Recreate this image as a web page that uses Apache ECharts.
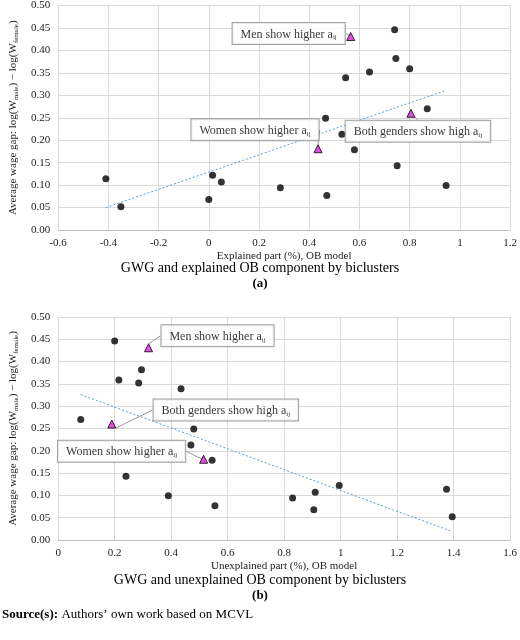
<!DOCTYPE html>
<html><head><meta charset="utf-8">
<script src="https://cdn.jsdelivr.net/npm/echarts@6/dist/echarts.min.js"></script>
<style>html,body{margin:0;padding:0;background:#fff}#c{width:520px;height:640px}</style>
</head><body><div id="c"></div>
<script>
// Panel (a): explained part
const dotsA = [[-0.41,0.114],[-0.35,0.052],[0,0.068],[0.015,0.122],[0.05,0.107],[0.285,0.094],[0.465,0.249],[0.47,0.077],[0.53,0.213],[0.545,0.339],[0.58,0.179],[0.64,0.352],[0.74,0.446],[0.745,0.382],[0.75,0.143],[0.8,0.359],[0.87,0.27],[0.945,0.099]];
const triA = [[0.565,0.431],[0.435,0.181],[0.805,0.26]];
const trendA = [[-0.41,0.05],[0.945,0.311]];
// Panel (b): unexplained part
const dotsB = [[0.08,0.27],[0.2,0.446],[0.215,0.359],[0.24,0.143],[0.285,0.352],[0.295,0.382],[0.39,0.099],[0.435,0.339],[0.47,0.213],[0.48,0.249],[0.545,0.179],[0.555,0.077],[0.83,0.094],[0.905,0.068],[0.91,0.107],[0.995,0.122],[1.375,0.114],[1.395,0.052]];
const triB = [[0.32,0.431],[0.19,0.26],[0.515,0.181]];
const trendB = [[0.08,0.326],[1.39,0.02]];
const triLabelsA = ['Men show higher','Women show higher','Both genders show high'];
const triLabelsB = ['Men show higher','Both genders show high','Women show higher'];
const offA = [[-62,-3],[-63,-19],[7,18]];
const offB = [[69,-12],[114,-14],[-82,-8]];

const F = 'Liberation Serif';
const ch = echarts.init(document.getElementById('c'));
const yName = '{n|Average wage gap: log(W}{s|male}{n|) − log(W}{s|female}{n|)}';
const yRich = {n:{fontFamily:F,fontSize:11,color:'#222'},s:{fontFamily:F,fontSize:7,color:'#222',verticalAlign:'bottom',padding:[6,0,0,0]}};
function xAx(i,min,max,interval,name){
  return {gridIndex:i,type:'value',min,max,interval,name,nameLocation:'middle',nameGap:21,
    nameTextStyle:{fontFamily:F,fontSize:11,color:'#222'},
    axisLine:{show:true,lineStyle:{color:'#bfbfbf'}},axisTick:{show:false},
    axisLabel:{fontFamily:F,fontSize:11,color:'#222',formatter:v=>String(Math.round(v*10)/10)},
    splitLine:{show:true,lineStyle:{color:'#d9d9d9'}}};
}
function yAx(i){
  return {gridIndex:i,type:'value',min:0,max:0.5,interval:0.05,name:yName,nameLocation:'middle',nameGap:37,
    nameTextStyle:{rich:yRich},
    axisLine:{show:false},axisTick:{show:false},
    axisLabel:{fontFamily:F,fontSize:11,color:'#222',formatter:v=>v.toFixed(2)},
    splitLine:{show:true,lineStyle:{color:'#d9d9d9'}}};
}
function tri(i,data,labels,off){
  return {type:'scatter',xAxisIndex:i,yAxisIndex:i,symbol:'triangle',symbolSize:8,
    itemStyle:{color:'#e020e0',borderColor:'#000',borderWidth:1},
    data:data.map((d,k)=>({value:d,name:labels[k]})),
    label:{show:true,position:'inside',formatter:p=>'{n|'+p.name+' a}{s|ij}',
      backgroundColor:'#fff',borderColor:'#888',borderWidth:1,padding:[5,8,3,8],
      rich:{n:{fontFamily:F,fontSize:12,color:'#000'},s:{fontFamily:F,fontSize:7,color:'#000',verticalAlign:'bottom',padding:[6,0,0,0]}}},
    labelLayout:p=>({dx:off[p.dataIndex][0],dy:off[p.dataIndex][1]}),
    labelLine:{show:true,lineStyle:{color:'#999',width:1}},z:5};
}
function dots(i,data){return {type:'scatter',xAxisIndex:i,yAxisIndex:i,symbolSize:7,itemStyle:{color:'#000'},data};}
function trend(i,data){return {type:'line',xAxisIndex:i,yAxisIndex:i,data,symbol:'none',silent:true,lineStyle:{color:'#5b9bd5',width:1,type:[2,2]}};}
ch.setOption({
  animation:false,
  grid:[{left:57,right:9,top:5,height:225},{left:54,right:9,top:317,height:223}],
  xAxis:[xAx(0,-0.6,1.2,0.2,'Explained part (%), OB model'),xAx(1,0,1.6,0.2,'Unexplained part (%), OB model')],
  yAxis:[yAx(0),yAx(1)],
  series:[trend(0,trendA),dots(0,dotsA),tri(0,triA,triLabelsA,offA),trend(1,trendB),dots(1,dotsB),tri(1,triB,triLabelsB,offB)],
  graphic:[
    {type:'text',left:'center',top:261,style:{text:'GWG and explained OB component by biclusters',font:'14px "Liberation Serif"',fill:'#000'}},
    {type:'text',left:'center',top:277,style:{text:'(a)',font:'bold 13px "Liberation Serif"',fill:'#000'}},
    {type:'text',left:'center',top:573,style:{text:'GWG and unexplained OB component by biclusters',font:'14px "Liberation Serif"',fill:'#000'}},
    {type:'text',left:'center',top:589,style:{text:'(b)',font:'bold 13px "Liberation Serif"',fill:'#000'}},
    {type:'text',left:2,top:608,style:{rich:{b:{font:'bold 13px "Liberation Serif"',fill:'#000'},n:{font:'13px "Liberation Serif"',fill:'#000'}},text:'{b|Source(s):} {n|Authors’ own work based on MCVL}'}}
  ]
});
</script></body></html>
